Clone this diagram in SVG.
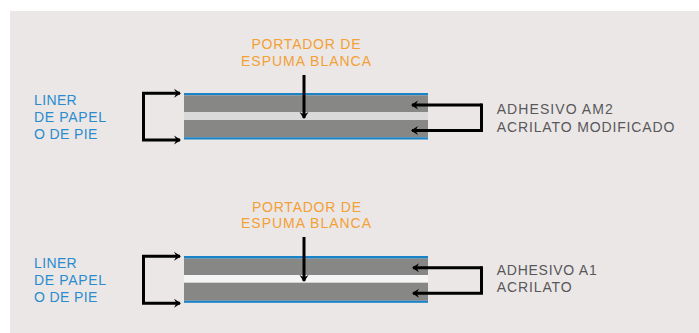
<svg xmlns="http://www.w3.org/2000/svg" width="699" height="333" viewBox="0 0 699 333">
<style>
.txt{font-family:"Liberation Sans",Arial,sans-serif;font-size:14px}
.blue{fill:#2a8ccf}
.orange{fill:#f3a035}
.gray{fill:#58585a}
.con{fill:none;stroke:#000;stroke-width:3;marker-end:url(#ah)}
.ply{fill:#878785}
.liner{fill:#1a82c6}
</style>
<defs>
<marker id="ah" markerUnits="userSpaceOnUse" markerWidth="12" markerHeight="12" viewBox="-8 -6 10 12" refX="0" refY="0" orient="auto">
<path d="M1,0 L-6,-4.5 L-3.5,0 L-6,4.5 Z" fill="#000"/>
</marker>
</defs>
<rect x="10" y="11" width="689" height="322" fill="#ebe7e6"/>

<g id="stack-top">
<rect x="184" y="93" width="244" height="2.3" class="liner"/>
<rect x="184" y="95.3" width="244" height="16.7" class="ply"/>
<rect x="184" y="112" width="244" height="8" fill="#d9d9d9"/>
<rect x="184" y="120" width="244" height="17.3" class="ply"/>
<rect x="184" y="137.3" width="244" height="2.2" class="liner"/>
</g>
<g id="stack-bottom">
<rect x="184" y="256" width="244" height="2.6" class="liner"/>
<rect x="184" y="258.6" width="244" height="16.4" class="ply"/>
<rect x="184" y="275" width="244" height="7.7" fill="#f5f5f5"/>
<rect x="184" y="282.7" width="244" height="18" class="ply"/>
<rect x="184" y="300.7" width="244" height="2.1" class="liner"/>
</g>

<g id="label-liner-top" class="txt blue">
<text x="34" y="105" textLength="42.7" lengthAdjust="spacing">LINER</text>
<text x="34" y="122" textLength="72" lengthAdjust="spacing">DE PAPEL</text>
<text x="34" y="139" textLength="63.3" lengthAdjust="spacing">O DE PIE</text>
</g>
<g id="label-foam-top" class="txt orange" text-anchor="middle">
<text x="306" y="49" textLength="109" lengthAdjust="spacing">PORTADOR DE</text>
<text x="306" y="66" textLength="130" lengthAdjust="spacing">ESPUMA BLANCA</text>
</g>
<g id="label-adh-top" class="txt gray">
<text x="496.7" y="114.3" textLength="116" lengthAdjust="spacing">ADHESIVO AM2</text>
<text x="496.7" y="131.7" textLength="177.7" lengthAdjust="spacing">ACRILATO MODIFICADO</text>
</g>

<g id="label-liner-bottom" class="txt blue">
<text x="34" y="267.7" textLength="42.7" lengthAdjust="spacing">LINER</text>
<text x="34" y="284.5" textLength="72" lengthAdjust="spacing">DE PAPEL</text>
<text x="34" y="301.7" textLength="63.3" lengthAdjust="spacing">O DE PIE</text>
</g>
<g id="label-foam-bottom" class="txt orange" text-anchor="middle">
<text x="306.5" y="211.7" textLength="109" lengthAdjust="spacing">PORTADOR DE</text>
<text x="306" y="228" textLength="130" lengthAdjust="spacing">ESPUMA BLANCA</text>
</g>
<g id="label-adh-bottom" class="txt gray">
<text x="496.7" y="274.7" textLength="100" lengthAdjust="spacing">ADHESIVO A1</text>
<text x="496.7" y="292.3" textLength="75" lengthAdjust="spacing">ACRILATO</text>
</g>

<g id="connectors">
<path class="con" d="M143.5,140 V93.3 H180"/>
<path class="con" d="M142,140 H180"/>
<path class="con" d="M304,75 V118"/>
<path class="con" d="M481.5,105 H412"/>
<path class="con" d="M481.5,103.5 V130.5 H412"/>

<path class="con" d="M143.5,303.3 V256.3 H180"/>
<path class="con" d="M142,303.3 H180"/>
<path class="con" d="M304,237 V281"/>
<path class="con" d="M481.5,267.7 H413"/>
<path class="con" d="M481.5,266.2 V293.3 H413"/>
</g>
</svg>
